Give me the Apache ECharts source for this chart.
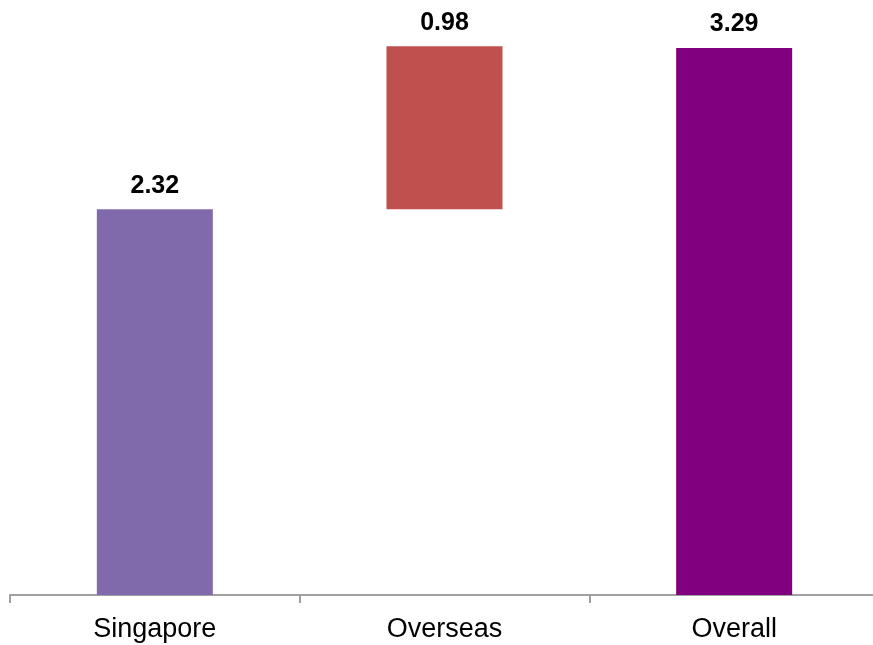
<!DOCTYPE html>
<html>
<head>
<meta charset="utf-8">
<style>
  html, body { margin: 0; padding: 0; background: #ffffff; }
  #chart { width: 873px; height: 645px; }
</style>
<script src="https://cdn.jsdelivr.net/npm/echarts@6/dist/echarts.min.js"></script>
</head>
<body>
<div id="chart"></div>
<script>
// Waterfall: Singapore + Overseas = Overall
const categories = ['Singapore', 'Overseas', 'Overall'];
const values = [2.32, 0.98, 3.29];
const barColors = ['#806AAC', '#C0504D', '#800080'];

// Invisible base under each bar: the overseas step starts where Singapore ends
const bases = [0, values[0], 0];

const chart = echarts.init(document.getElementById('chart'), null, { renderer: 'canvas' });

chart.setOption({
  animation: false,
  backgroundColor: '#ffffff',
  grid: {
    left: 10,
    width: 869,
    top: 13,
    bottom: 50,
    containLabel: false,
    outerBoundsMode: 'none'
  },
  xAxis: {
    type: 'category',
    data: categories,
    axisLine: { show: true, lineStyle: { color: '#a0a0a0', width: 2 } },
    axisTick: { show: true, length: 8, lineStyle: { color: '#a0a0a0', width: 2 } },
    axisLabel: {
      color: '#000000',
      fontFamily: 'Liberation Sans, Arial, sans-serif',
      fontSize: 27,
      margin: 21
    },
    splitLine: { show: false }
  },
  yAxis: {
    type: 'value',
    min: 0,
    max: 3.5,
    show: false,
    splitLine: { show: false }
  },
  series: [
    {
      name: 'base',
      type: 'bar',
      stack: 'total',
      barWidth: 116,
      silent: true,
      itemStyle: { color: 'transparent' },
      data: bases
    },
    {
      name: 'value',
      type: 'bar',
      stack: 'total',
      barWidth: 116,
      data: values.map((v, i) => ({ value: v, itemStyle: { color: barColors[i] } })),
      label: {
        show: true,
        position: 'top',
        distance: 11,
        color: '#000000',
        fontFamily: 'Liberation Sans, Arial, sans-serif',
        fontWeight: 'bold',
        fontSize: 25,
        formatter: p => p.value.toFixed(2)
      }
    }
  ]
});
</script>
</body>
</html>
